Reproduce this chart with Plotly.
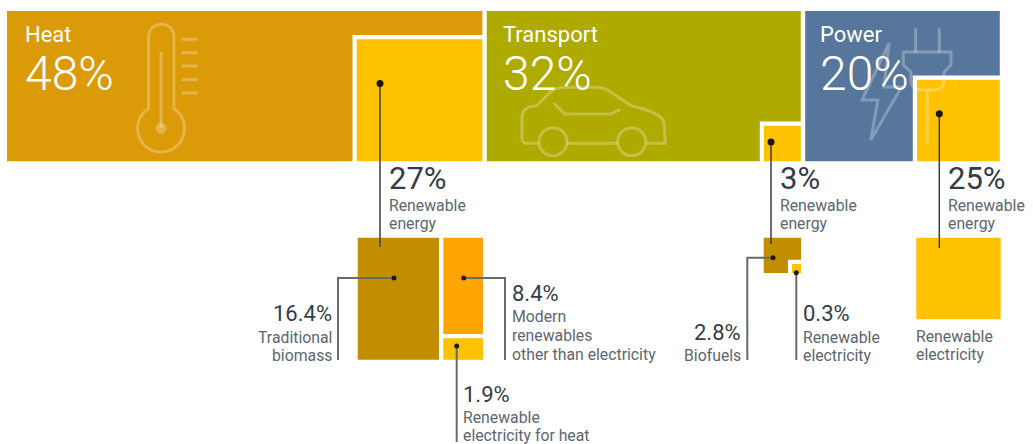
"""Share of final energy use by sector and the renewable part of each."""
import plotly.graph_objects as go

# chart data
sector_names = ["Heat", "Transport", "Power"]
sector_shares = [48, 32, 20]
renewable_shares = [27, 3, 25]
renewable_label = ["Renewable", "energy"]

heat_names = [["Traditional", "biomass"], ["Modern", "renewables", "other than electricity"],
              ["Renewable", "electricity for heat"]]
heat_values = [16.4, 8.4, 1.9]
transport_names = [["Biofuels"], ["Renewable", "electricity"]]
transport_values = [2.8, 0.3]
power_name = ["Renewable", "electricity"]

# colours
HEAT = "#DB9A08"
TRANSPORT = "#AFAA00"
POWER = "#56779B"
YELLOW = "#FFC200"
BROWN = "#C28E00"
ORANGE = "#FFA400"
DARK = "#333D47"
GREY = "#5C6670"
LEADER = "#3C3C3C"
LEADER_SOFT = "#6A6A6A"
ICON = "rgba(255,255,255,0.27)"
FONT = "Roboto, sans-serif"

# layout of the diagram, in pixels of the 1033x444 canvas
LEFT = 7
PX_PER_PCT = 9.95
HALF_GAP = 2.2
TOP, BOTTOM = 11, 161.3
ROW2_TOP, ROW2_BOTTOM = 237.7, 359.7
LABEL_SIZE = 15.8
LINE_STEP = 18.8

edges = [LEFT]
for share in sector_shares:
    edges.append(edges[-1] + share * PX_PER_PCT)
heat_x = (edges[0], edges[1] - HALF_GAP)
transport_x = (edges[1] + HALF_GAP, edges[2] - HALF_GAP)
power_x = (edges[2] + HALF_GAP, edges[3] - HALF_GAP)

# top left corner of the yellow "renewable" tile inside each sector
inner_corner = [(356.7, 39.3), (764, 125.7), (917, 79.7)]
KEYLINE = 4.2

fig = go.Figure()


def add_polygon(points, color):
    xs = [p[0] for p in points] + [points[0][0]]
    ys = [p[1] for p in points] + [points[0][1]]
    fig.add_trace(go.Scatter(x=xs, y=ys, mode="lines", fill="toself", fillcolor=color,
                             line=dict(width=0), hoverinfo="skip", showlegend=False))


def add_rect(x0, y0, x1, y1, color):
    add_polygon([(x0, y0), (x1, y0), (x1, y1), (x0, y1)], color)


def add_leader(xs, ys, dot_size=7, color=LEADER, width=1.5):
    """Line from a tile to its label; the first point carries the dot."""
    fig.add_trace(go.Scatter(x=xs, y=ys, mode="lines", line=dict(color=color, width=width),
                             hoverinfo="skip", showlegend=False))
    fig.add_trace(go.Scatter(x=xs[:1], y=ys[:1], mode="markers",
                             marker=dict(color="#1A1A1A", size=dot_size),
                             hoverinfo="skip", showlegend=False))


def add_text(x, y, text, size, color, anchor="left", weight=400):
    fig.add_annotation(x=x, y=y, text=text, showarrow=False, xanchor=anchor, yanchor="middle",
                       align=anchor, borderpad=0, borderwidth=0,
                       font=dict(family=FONT, size=size, color=color, weight=weight))


def add_label(x, y, lines, anchor="left"):
    for i, line in enumerate(lines):
        add_text(x, y + i * LINE_STEP, line, LABEL_SIZE, GREY, anchor)


# sector tiles, each with a notch for its renewable tile
for (x0, x1), color, (ix, iy) in zip((heat_x, transport_x, power_x),
                                     (HEAT, TRANSPORT, POWER), inner_corner):
    nx, ny = ix - KEYLINE, iy - KEYLINE
    add_polygon([(x0, TOP), (x1, TOP), (x1, ny), (nx, ny), (nx, BOTTOM), (x0, BOTTOM)], color)
    add_rect(ix, iy, x1, BOTTOM, YELLOW)

# second row: heat breakdown
add_rect(357.7, ROW2_TOP, 439, ROW2_BOTTOM, BROWN)
add_rect(443.3, ROW2_TOP, 483, 334, ORANGE)
add_rect(443.3, 338.3, 483, ROW2_BOTTOM, YELLOW)
# transport breakdown
add_polygon([(763.7, ROW2_TOP), (801, ROW2_TOP), (801, 259.7), (788, 259.7), (788, 273), (763.7, 273)], BROWN)
add_rect(792, 264, 801, 273, YELLOW)
# power breakdown
add_rect(916.3, ROW2_TOP, 1000.7, 319.3, YELLOW)

# leaders
add_leader([380, 380], [83.5, 247])
add_leader([771, 771], [142, 244])
add_leader([939.3, 939.3], [113.7, 248])
add_leader([394, 338, 338], [278, 278, 360], 5, LEADER_SOFT, 2)
add_leader([463.7, 505, 505], [278, 278, 360], 5, LEADER_SOFT, 2)
add_leader([456.7, 456.7], [346, 442], 5, LEADER_SOFT, 2)
add_leader([773, 747.3, 747.3], [257.7, 257.7, 360], 5, LEADER_SOFT, 2)
add_leader([796.3, 796.3], [272.7, 360], 5, LEADER_SOFT, 2)


def circle(cx, cy, r):
    k = 0.5523 * r
    return (f"M{cx - r} {cy} C{cx - r} {cy - k} {cx - k} {cy - r} {cx} {cy - r} "
            f"C{cx + k} {cy - r} {cx + r} {cy - k} {cx + r} {cy} "
            f"C{cx + r} {cy + k} {cx + k} {cy + r} {cx} {cy + r} "
            f"C{cx - k} {cy + r} {cx - r} {cy + k} {cx - r} {cy} Z")


icon_paths = [
    # thermometer
    "M148.5 109 V37 C148.5 20 174 20 174 37 V109 "
    "C192 119 186 152 161 152 C136 152 130 119 148.5 109 Z",
    "M161 52 V128",
    "M181.7 39.3 H197.7", "M181.7 52.7 H197.7", "M181.7 66 H197.7", "M181.7 79.7 H197.7", "M181.7 93 H197.7",
    # car
    "M539 143.3 H527 Q522 143.3 522 138 V116.7 Q523 106 536.4 106 L550.5 92 Q556 87.3 566.4 87.3 H596.4 "
    "Q604 87.3 610.5 92 L631.7 106 Q660 112 664 122 L665.2 143.3 H645.8",
    "M567 143.3 H617.6",
    circle(553, 141.7, 14), circle(631.7, 141.7, 14),
    "M553.4 102.7 L564.7 114 H610.5 L620.4 109.3",
    # bolt
    "M889.2 43 L862 100 H877.9 L870.8 140 L901.5 87 H883.9 Z",
    # plug
    "M915.6 28.3 V52", "M939.3 28.3 V52",
    "M903.3 52 H951 V65 L944 72 V80 Q944 90 933 90 H922 Q911 90 911 80 V72 L903.3 65 Z",
    "M927.3 90 V143",
]
for path in icon_paths:
    fig.add_shape(type="path", path=path, xref="x", yref="y", layer="above",
                  line=dict(color=ICON, width=3))
fig.add_shape(type="path", path=circle(161, 128.3, 5.5), xref="x", yref="y", layer="above",
              fillcolor=ICON, line=dict(width=0))

# sector headings
heading_x = [25, 503, 820]
for x, name, share in zip(heading_x, sector_names, sector_shares):
    add_text(x, 34.5, name, 22, "white")
    add_text(x, 73, f"{share}%", 48, "white", weight=300)

# renewable headings
value_x = [389, 780, 948]
for x, share in zip(value_x, renewable_shares):
    add_text(x, 178.5, f"{share}%", 31, DARK)
    add_label(x, 205, renewable_label)

# breakdown labels
add_text(332, 313, f"{heat_values[0]}%", 22, DARK, "right")
add_label(332, 337, heat_names[0], "right")
add_text(512, 293, f"{heat_values[1]}%", 22, DARK)
add_label(512, 316.5, heat_names[1])
add_text(463, 394, f"{heat_values[2]}%", 22, DARK)
add_label(463, 417, heat_names[2])
add_text(741, 332, f"{transport_values[0]}%", 22, DARK, "right")
add_label(741, 355, transport_names[0], "right")
add_text(803, 313, f"{transport_values[1]}%", 22, DARK)
add_label(803, 337, transport_names[1])
add_label(916, 336, power_name)

fig.update_layout(
    width=1033,
    height=444,
    margin=dict(l=0, r=0, t=0, b=0),
    paper_bgcolor="white",
    plot_bgcolor="white",
    showlegend=False,
    xaxis=dict(range=[0, 1033], visible=False, fixedrange=True),
    yaxis=dict(range=[444, 0], visible=False, fixedrange=True),
)

# the page's default body margin would push the chart 8px off
fig.write_html("out.html", config={"displayModeBar": False},
               post_script="document.body.style.margin = '0'; document.body.style.overflow = 'hidden';")
